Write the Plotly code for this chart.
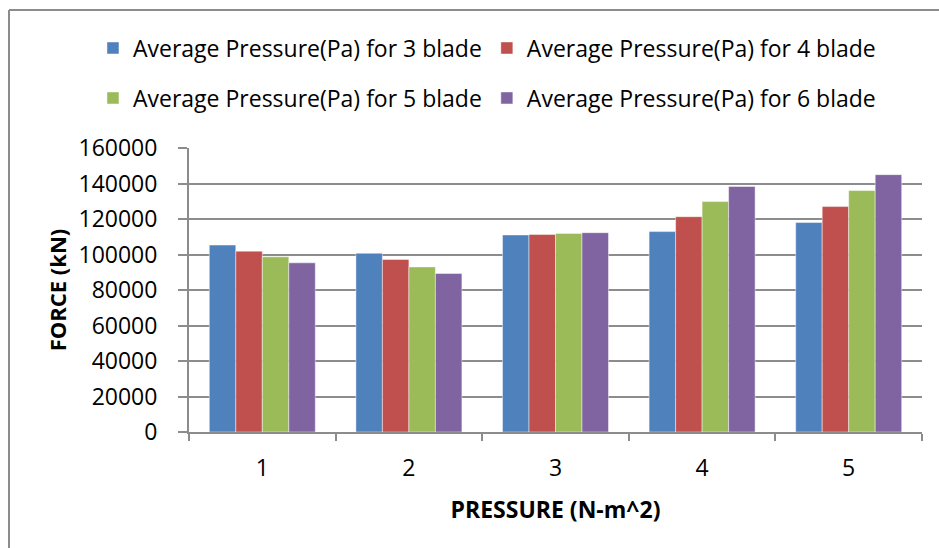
import plotly.graph_objects as go

# Categories on the x axis
categories = ["1", "2", "3", "4", "5"]

# Series values
blade3 = [105300, 100700, 111000, 112900, 118000]
blade4 = [101900, 97200, 111300, 121300, 127000]
blade5 = [98700, 93000, 111900, 129800, 136000]
blade6 = [95300, 89300, 112300, 138300, 145000]

series_names = [
    "Average Pressure(Pa) for 3 blade",
    "Average Pressure(Pa) for 4 blade",
    "Average Pressure(Pa) for 5 blade",
    "Average Pressure(Pa) for 6 blade",
]
series_values = [blade3, blade4, blade5, blade6]
colors = ["#4F81BD", "#C0504D", "#9BBB59", "#8064A2"]
legend_ids = ["legend", "legend", "legend2", "legend2"]

y_ticks = [0, 20000, 40000, 60000, 80000, 100000, 120000, 140000, 160000]

FONT = "Open Sans"
GRID = "#8C8C8C"

fig = go.Figure()
for name, vals, col, lg in zip(series_names, series_values, colors, legend_ids):
    fig.add_trace(go.Bar(
        x=categories, y=vals, name=name,
        marker=dict(color=col, line=dict(color="rgba(255,255,255,0.45)", width=1)),
        legend=lg,
    ))

legend_common = dict(
    orientation="h",
    xanchor="left",
    yanchor="middle",
    font=dict(family=FONT, size=23, color="#000000"),
    bgcolor="rgba(0,0,0,0)",
    itemwidth=30,
    itemclick=False,
)

fig.update_layout(
    width=939, height=548,
    margin=dict(l=189, r=17, t=148, b=116),
    paper_bgcolor="white",
    plot_bgcolor="white",
    barmode="group",
    bargap=0.277,
    bargroupgap=0,
    font=dict(family=FONT, color="#000000"),
    legend=dict(x=-0.131, y=1.352, **legend_common),
    legend2=dict(x=-0.131, y=1.176, **legend_common),
    xaxis=dict(
        type="category",
        showgrid=False,
        showline=True, linecolor=GRID, linewidth=2,
        ticks="outside", tickson="boundaries", ticklen=7, tickcolor=GRID, tickwidth=2,
        tickfont=dict(family=FONT, size=23, color="#000000"),
        ticklabelstandoff=14,
        title=dict(text="<b>PRESSURE (N-m^2)</b>", font=dict(family=FONT, size=23, color="#000000"),
                   standoff=20),
    ),
    yaxis=dict(
        range=[0, 160000],
        tickvals=y_ticks,
        ticktext=[str(v) for v in y_ticks],
        showgrid=True, gridcolor=GRID, gridwidth=2,
        showline=True, linecolor=GRID, linewidth=2,
        zeroline=False,
        ticks="outside", ticklen=9, tickcolor=GRID, tickwidth=2,
        tickfont=dict(family=FONT, size=23, color="#000000"),
        ticklabelstandoff=16,
        title=dict(text="<b>FORCE (kN)</b>", font=dict(family=FONT, size=22, color="#000000"),
                   standoff=6),
    ),
    shapes=[
        # chart frame (top and left edges visible)
        dict(type="line", xref="paper", yref="paper",
             x0=(9 - 189) / 733, x1=1.1, y0=(432 - 10) / 284, y1=(432 - 10) / 284,
             line=dict(color="#8C8C8C", width=2)),
        dict(type="line", xref="paper", yref="paper",
             x0=(9 - 189) / 733, x1=(9 - 189) / 733, y0=(432 - 10) / 284, y1=-0.5,
             line=dict(color="#8C8C8C", width=2)),
    ],
)

fig.write_html("out.html")
